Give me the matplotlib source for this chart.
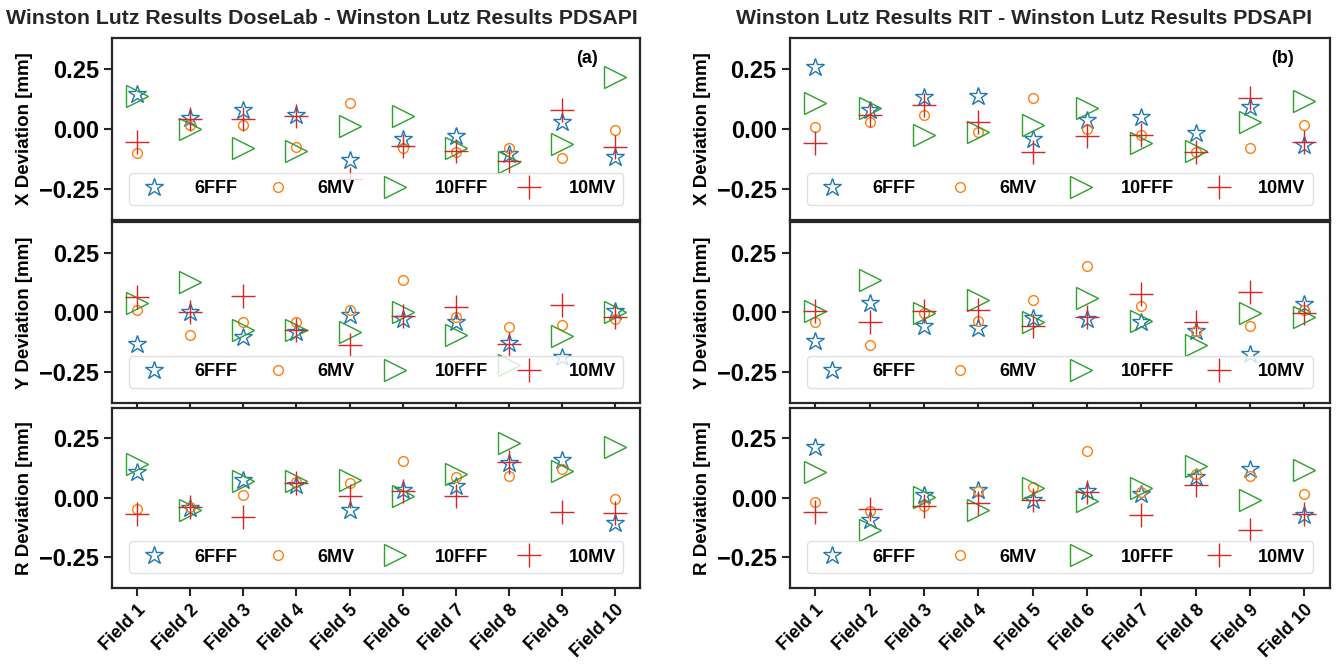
import numpy as np
import matplotlib
matplotlib.use('Agg')
import matplotlib.pyplot as plt

plt.rcParams['font.family'] = ['Liberation Sans', 'DejaVu Sans']
plt.rcParams['font.weight'] = 'bold'

fields = ['Field 1', 'Field 2', 'Field 3', 'Field 4', 'Field 5',
          'Field 6', 'Field 7', 'Field 8', 'Field 9', 'Field 10']
beams = ['6FFF', '6MV', '10FFF', '10MV']

# DoseLab - PDSAPI
dl_x_6fff = [0.147, 0.045, 0.08, 0.059, -0.13, -0.042, -0.03, -0.105, 0.028, -0.115]
dl_x_6mv = [-0.10, 0.017, 0.017, -0.073, 0.109, -0.08, -0.095, -0.077, -0.119, -0.003]
dl_x_10fff = [0.14, 0.0, -0.077, -0.09, 0.011, 0.053, -0.081, -0.137, -0.063, 0.219]
dl_x_10mv = [-0.056, 0.042, 0.042, 0.053, -0.21, -0.07, -0.091, -0.133, 0.08, -0.073]

dl_y_6fff = [-0.133, 0.003, -0.105, -0.084, -0.01, -0.028, -0.042, -0.13, -0.186, 0.007]
dl_y_6mv = [0.01, -0.095, -0.042, -0.042, 0.01, 0.137, -0.021, -0.063, -0.053, -0.028]
dl_y_10fff = [0.038, 0.128, -0.074, -0.074, -0.081, 0.0, -0.094, -0.22, -0.10, 0.0]
dl_y_10mv = [0.066, 0.0, 0.07, -0.074, -0.135, -0.014, 0.021, -0.133, 0.032, -0.018]

dl_r_6fff = [0.108, -0.044, 0.076, 0.056, -0.049, 0.034, 0.048, 0.146, 0.16, -0.107]
dl_r_6mv = [-0.046, -0.039, 0.014, 0.066, 0.062, 0.155, 0.09, 0.092, 0.123, -0.004]
dl_r_10fff = [0.144, -0.049, 0.073, 0.07, 0.076, 0.01, 0.099, 0.232, 0.113, 0.214]
dl_r_10mv = [-0.068, -0.037, -0.082, 0.062, 0.007, 0.027, 0.01, 0.151, -0.058, -0.065]

# RIT - PDSAPI
rit_x_6fff = [0.261, 0.079, 0.135, 0.139, -0.042, 0.039, 0.049, -0.017, 0.094, -0.067]
rit_x_6mv = [0.01, 0.031, 0.058, -0.014, 0.128, 0.0, -0.025, -0.094, -0.079, 0.017]
rit_x_10fff = [0.108, 0.09, -0.025, -0.011, 0.018, 0.09, -0.06, -0.09, 0.031, 0.118]
rit_x_10mv = [-0.058, 0.058, 0.1, 0.028, -0.097, -0.031, -0.025, -0.097, 0.128, -0.056]

rit_y_6fff = [-0.118, 0.039, -0.058, -0.065, -0.024, -0.028, -0.038, -0.079, -0.176, 0.035]
rit_y_6mv = [-0.038, -0.138, -0.003, -0.035, 0.053, 0.194, 0.029, -0.079, -0.058, 0.011]
rit_y_10fff = [0.007, 0.136, -0.003, 0.053, -0.042, 0.06, -0.035, -0.135, -0.003, -0.021]
rit_y_10mv = [0.007, -0.038, 0.007, 0.011, -0.058, -0.021, 0.076, -0.038, 0.088, -0.003]

rit_r_6fff = [0.212, -0.091, 0.014, 0.035, -0.007, 0.031, 0.017, 0.087, 0.122, -0.073]
rit_r_6mv = [-0.017, -0.053, -0.035, 0.031, 0.045, 0.196, 0.024, 0.101, 0.091, 0.017]
rit_r_10fff = [0.109, -0.137, 0.003, -0.049, 0.042, -0.011, 0.042, 0.135, -0.007, 0.119]
rit_r_10mv = [-0.059, -0.046, -0.035, -0.021, -0.007, 0.024, -0.073, 0.053, -0.137, -0.067]

markers = ['*', 'o', '>', '+']
sizes = [13.5, 7, 16, 17]
colors = ['#1f77b4', '#ff7f0e', '#2ca02c', '#d62728']


def draw_panel(ax, series, ylabel, show_xticks):
    x = np.arange(len(fields))
    for vals, beam, m, s, c in zip(series, beams, markers, sizes, colors):
        if m == '+':
            ax.plot(x, vals, linestyle='none', marker=m, ms=s, color=c,
                    mew=1.0, label=beam)
        else:
            ax.plot(x, vals, linestyle='none', marker=m, ms=s, mfc='none',
                    mec=c, mew=1.0, label=beam)
    ax.set_xlim(-0.47, 9.47)
    ax.set_ylim(-0.38, 0.38)
    ax.set_yticks([-0.25, 0.0, 0.25])
    ax.set_xticks(x)
    if show_xticks:
        ax.set_xticklabels(fields, rotation=45, ha='right',
                           rotation_mode='anchor', fontsize=13, fontweight='bold')
    else:
        ax.set_xticklabels([])
    ax.set_ylabel(ylabel, fontsize=13.5, fontweight='bold')
    ax.tick_params(axis='y', labelsize=17, length=6, width=1.5, color='0.15')
    ax.tick_params(axis='x', length=6, width=1.5, color='0.15')
    for lab in ax.get_yticklabels():
        lab.set_fontweight('bold')
    for sp in ax.spines.values():
        sp.set_linewidth(1.6)
        sp.set_color('0.15')
    leg = ax.legend(loc='lower left', bbox_to_anchor=(0.015, 0.035, 0.97, 0.3),
                    mode='expand', ncol=4, fontsize=13, handletextpad=1.2,
                    borderpad=0.4, framealpha=0.8, edgecolor='0.85')
    for t in leg.get_texts():
        t.set_fontweight('bold')


fig = plt.figure(figsize=(13.41, 6.67), dpi=100)

rows = [(0.670, 0.273), (0.396, 0.271), (0.118, 0.271)]
labels = ['X Deviation [mm]', 'Y Deviation [mm]', 'R Deviation [mm]']

left_data = [
    [dl_x_6fff, dl_x_6mv, dl_x_10fff, dl_x_10mv],
    [dl_y_6fff, dl_y_6mv, dl_y_10fff, dl_y_10mv],
    [dl_r_6fff, dl_r_6mv, dl_r_10fff, dl_r_10mv],
]
right_data = [
    [rit_x_6fff, rit_x_6mv, rit_x_10fff, rit_x_10mv],
    [rit_y_6fff, rit_y_6mv, rit_y_10fff, rit_y_10mv],
    [rit_r_6fff, rit_r_6mv, rit_r_10fff, rit_r_10mv],
]

for i, (b, h) in enumerate(rows):
    axl = fig.add_axes([0.0835, b, 0.394, h])
    draw_panel(axl, left_data[i], labels[i], i == 2)
    axr = fig.add_axes([0.589, b, 0.4027, h])
    draw_panel(axr, right_data[i], labels[i], i == 2)
    if i == 0:
        axl.text(0.9, 0.89, '(a)', transform=axl.transAxes, fontsize=13,
                 fontweight='bold', ha='center', va='center')
        axr.text(0.913, 0.89, '(b)', transform=axr.transAxes, fontsize=13,
                 fontweight='bold', ha='center', va='center')

fig.text(0.24, 0.973, 'Winston Lutz Results DoseLab - Winston Lutz Results PDSAPI',
         ha='center', va='center', fontsize=15.3, fontweight='bold', color='0.15')
fig.text(0.764, 0.973, 'Winston Lutz Results RIT - Winston Lutz Results PDSAPI',
         ha='center', va='center', fontsize=15.3, fontweight='bold', color='0.15')

fig.savefig('out.png', dpi=100)
